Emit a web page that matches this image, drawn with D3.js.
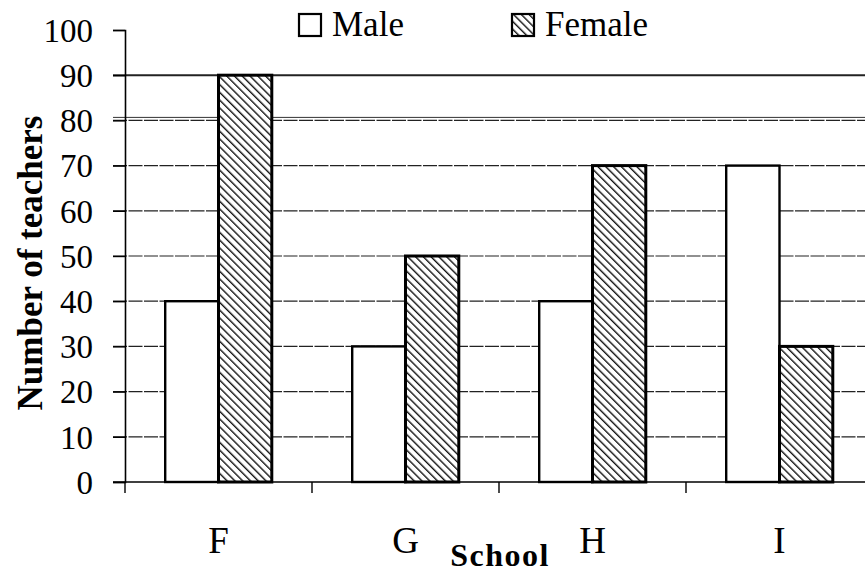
<!doctype html>
<html>
  <head>
    <meta charset="utf-8">
    <title>Teachers by school</title>
    <script type="text/javascript" src="https://cdn.jsdelivr.net/npm/d3@7"></script>
    <style>
      body { margin: 0; background: #fff; }
      svg text { font-family: 'Liberation Serif', 'Times New Roman', Times, 'DejaVu Serif', serif; }
    </style>
  </head>
  <body>
    <script>
      const schools = ['F', 'G', 'H', 'I'];
      const male = [40, 30, 40, 70];
      const female = [90, 50, 70, 30];
      const yTicks = [0, 10, 20, 30, 40, 50, 60, 70, 80, 90, 100];

      const width = 865;
      const height = 575;

      const svg = d3.select('body').append('svg')
          .attr('width', width)
          .attr('height', height)
          .style('background', '#fff');

      // hatch pattern for female bars
      const defs = svg.append('defs');
      const pat = defs.append('pattern')
          .attr('id', 'hatch')
          .attr('patternUnits', 'userSpaceOnUse')
          .attr('width', 5.5)
          .attr('height', 5.5)
          .attr('patternTransform', 'rotate(-45)');
      pat.append('rect').attr('width', 5.5).attr('height', 5.5).attr('fill', '#fff');
      pat.append('line')
          .attr('x1', 0).attr('y1', 0).attr('x2', 0).attr('y2', 5.5)
          .attr('stroke', '#111').attr('stroke-width', 2.8);

      const x0 = d3.scaleBand()
          .domain(schools)
          .range([125, 873])
          .paddingInner(0.43)
          .paddingOuter(0.215);

      const x1 = d3.scaleBand()
          .domain(['male', 'female'])
          .range([0, x0.bandwidth()]);

      const y = d3.scaleLinear()
          .domain([0, 100])
          .range([482, 30]);

      // gridlines
      svg.append('g').selectAll('line')
        .data(yTicks.filter(d => d > 0 && d < 100))
        .enter().append('line')
          .attr('x1', 113).attr('x2', width)
          .attr('y1', d => y(d)).attr('y2', d => y(d))
          .attr('stroke', '#222')
          .attr('stroke-width', d => d === 90 ? 2 : 1.2)
          .attr('stroke-dasharray', d => d === 90 ? null : '14,1.5');

      // second line just above 80
      svg.append('line')
          .attr('x1', 113).attr('x2', width)
          .attr('y1', y(80) - 3).attr('y2', y(80) - 3)
          .attr('stroke', '#333').attr('stroke-width', 1);

      // y axis
      const yAxis = d3.axisLeft(y).tickValues(yTicks).tickSize(12).tickPadding(20);
      const gy = svg.append('g')
          .attr('transform', 'translate(125,0)')
          .call(yAxis)
          .attr('font-family', null);
      gy.select('.domain').attr('stroke', '#000').attr('stroke-width', 1.6);
      gy.selectAll('.tick line').attr('stroke', '#000').attr('stroke-width', 1.4);
      gy.selectAll('.tick text')
          .attr('font-size', 33)
          .attr('fill', '#000')
          .attr('dy', '0.34em');

      // bars
      const groups = svg.append('g').selectAll('g')
        .data(schools)
        .enter().append('g')
          .attr('transform', d => `translate(${x0(d)},0)`);

      groups.append('rect')
          .attr('x', x1('male'))
          .attr('y', (d, i) => y(male[i]))
          .attr('width', x1.bandwidth())
          .attr('height', (d, i) => y(0) - y(male[i]))
          .attr('fill', '#fff')
          .attr('stroke', '#000')
          .attr('stroke-width', 2.4);

      groups.append('rect')
          .attr('x', x1('female'))
          .attr('y', (d, i) => y(female[i]))
          .attr('width', x1.bandwidth())
          .attr('height', (d, i) => y(0) - y(female[i]))
          .attr('fill', 'url(#hatch)')
          .attr('stroke', '#000')
          .attr('stroke-width', 3);

      // x axis baseline with category separators
      svg.append('line')
          .attr('x1', 113).attr('x2', width)
          .attr('y1', y(0)).attr('y2', y(0))
          .attr('stroke', '#000').attr('stroke-width', 1.6);

      svg.append('g').selectAll('line')
        .data(schools)
        .enter().append('line')
          .attr('x1', d => x0(d) - x0.step() * 0.215)
          .attr('x2', d => x0(d) - x0.step() * 0.215)
          .attr('y1', y(0)).attr('y2', y(0) + 11)
          .attr('stroke', '#000').attr('stroke-width', 1.4);

      svg.append('g').selectAll('text')
        .data(schools)
        .enter().append('text')
          .attr('x', d => x0(d) + x0.bandwidth() / 2)
          .attr('y', 553)
          .attr('text-anchor', 'middle')
          .attr('font-size', 37)
          .text(d => d);

      // axis titles
      svg.append('text')
          .attr('x', 500).attr('y', 566)
          .attr('text-anchor', 'middle')
          .attr('font-weight', 'bold')
          .attr('font-size', 32)
          .attr('letter-spacing', 1.5)
          .text('School');

      svg.append('text')
          .attr('transform', 'translate(42,263) rotate(-90)')
          .attr('text-anchor', 'middle')
          .attr('font-weight', 'bold')
          .attr('font-size', 35)
          .text('Number of teachers');

      // legend
      const legend = [
        { label: 'Male', fill: '#fff', x: 299 },
        { label: 'Female', fill: 'url(#hatch)', x: 512 }
      ];
      const lg = svg.append('g').selectAll('g')
        .data(legend)
        .enter().append('g')
          .attr('transform', d => `translate(${d.x},14)`);
      lg.append('rect')
          .attr('width', 22).attr('height', 22)
          .attr('fill', d => d.fill)
          .attr('stroke', '#000').attr('stroke-width', 2.2);
      lg.append('text')
          .attr('x', 33).attr('y', 22)
          .attr('font-size', 35)
          .text(d => d.label);
    </script>
  </body>
</html>
